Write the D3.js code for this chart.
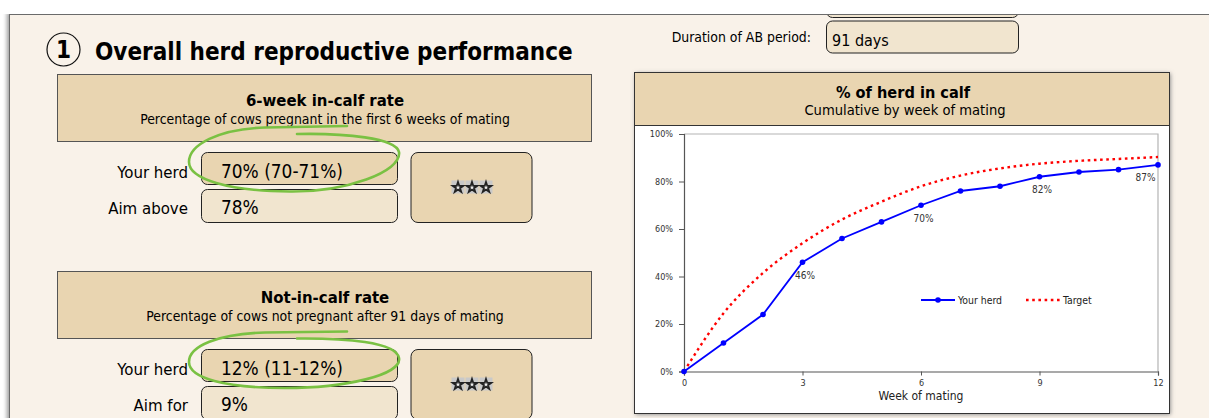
<!DOCTYPE html>
<html>
<head>
<meta charset="utf-8">
<script src="https://cdn.jsdelivr.net/npm/d3@7"></script>
<style>
  body { margin: 0; background: #ffffff; }
  svg { display: block; }
  text { font-family: 'DejaVu Sans Condensed', 'DejaVu Sans', sans-serif; }
</style>
</head>
<body>
<div id="chart"></div>
<script>
// chart data
const weeks = [0, 1, 2, 3, 4, 5, 6, 7, 8, 9, 10, 11, 12]
const yourHerd = [0, 12, 24, 46, 56, 63, 70, 76, 78, 82, 84, 85, 87]
const target = [0, 24.5, 41.5, 54, 64, 71.5, 78, 82.5, 85.5, 87.5, 88.7, 89.5, 90.3]
const labelWeeks = [3, 6, 9, 12]
const yTicks = [0, 20, 40, 60, 80, 100]
const xTicks = [0, 3, 6, 9, 12]
const seriesNames = ['Your herd', 'Target']

// left panel text
const metricTitles = ['6-week in-calf rate', 'Not-in-calf rate']
const metricSubtitles = [
  'Percentage of cows pregnant in the first 6 weeks of mating',
  'Percentage of cows not pregnant after 91 days of mating',
]
const herdValues = ['70% (70-71%)', '12% (11-12%)']
const aimLabels = ['Aim above', 'Aim for']
const aimValues = ['78%', '9%']
const starCounts = [3, 3]

const width = 1209
const height = 418
const tan = '#e9d5b1'
const lightTan = '#f1e5cf'
const panelBg = '#f9f2e9'

const svg = d3
  .select('#chart')
  .append('svg')
  .attr('width', width)
  .attr('height', height)

const defs = svg.append('defs')
defs
  .append('filter')
  .attr('id', 'shadow')
  .attr('x', '-5%')
  .attr('y', '-5%')
  .attr('width', '110%')
  .attr('height', '110%')
  .append('feGaussianBlur')
  .attr('stdDeviation', 2)

// Panel
svg
  .append('rect')
  .attr('x', 7)
  .attr('y', 12)
  .attr('width', 1300)
  .attr('height', 500)
  .attr('fill', '#999')
  .attr('filter', 'url(#shadow)')
svg
  .append('rect')
  .attr('x', 9.5)
  .attr('y', 14.5)
  .attr('width', 1300)
  .attr('height', 500)
  .attr('fill', panelBg)
  .attr('stroke', '#6b6b6b')

// Section heading
svg
  .append('circle')
  .attr('cx', 63.5)
  .attr('cy', 49.5)
  .attr('r', 16.5)
  .attr('fill', 'none')
  .attr('stroke', '#111')
  .attr('stroke-width', 1.2)
svg
  .append('text')
  .attr('x', 63.5)
  .attr('y', 58)
  .attr('text-anchor', 'middle')
  .attr('font-size', 24)
  .attr('font-weight', 'bold')
  .text('1')
svg
  .append('text')
  .attr('x', 95)
  .attr('y', 60)
  .attr('font-size', 24)
  .attr('font-weight', 'bold')
  .text('Overall herd reproductive performance')

// Top right inputs
svg
  .append('rect')
  .attr('x', 826.5)
  .attr('y', 2)
  .attr('width', 192)
  .attr('height', 15.5)
  .attr('rx', 6)
  .attr('fill', lightTan)
  .attr('stroke', '#222')
svg
  .append('rect')
  .attr('x', 0)
  .attr('y', 0)
  .attr('width', width)
  .attr('height', 14)
  .attr('fill', '#fff')
svg
  .append('line')
  .attr('x1', 9)
  .attr('x2', width)
  .attr('y1', 14.5)
  .attr('y2', 14.5)
  .attr('stroke', '#6b6b6b')
svg
  .append('text')
  .attr('x', 811)
  .attr('y', 42)
  .attr('text-anchor', 'end')
  .attr('font-size', 13.9)
  .text('Duration of AB period:')
svg
  .append('rect')
  .attr('x', 826.5)
  .attr('y', 21)
  .attr('width', 192)
  .attr('height', 32)
  .attr('rx', 6)
  .attr('fill', lightTan)
  .attr('stroke', '#222')
svg
  .append('text')
  .attr('x', 832)
  .attr('y', 46)
  .attr('font-size', 16)
  .text('91 days')

// Metric blocks
const blockTop = [74, 271]
const starPath = d3.symbol(d3.symbolStar, 34)()

metricTitles.forEach((title, i) => {
  const g = svg.append('g').attr('transform', `translate(0, ${blockTop[i]})`)
  g.append('rect')
    .attr('x', 57.5)
    .attr('y', 0.5)
    .attr('width', 534)
    .attr('height', 67)
    .attr('fill', tan)
    .attr('stroke', '#555')
  g.append('text')
    .attr('x', 325)
    .attr('y', 31.5)
    .attr('text-anchor', 'middle')
    .attr('font-size', 16.6)
    .attr('font-weight', 'bold')
    .text(title)
  g.append('text')
    .attr('x', 325)
    .attr('y', 49.5)
    .attr('text-anchor', 'middle')
    .attr('font-size', 13.9)
    .text(metricSubtitles[i])

  const vy = 78.5
  g.append('rect')
    .attr('x', 201.5)
    .attr('y', vy)
    .attr('width', 196)
    .attr('height', 32)
    .attr('rx', 6)
    .attr('fill', tan)
    .attr('stroke', '#222')
  g.append('rect')
    .attr('x', 201.5)
    .attr('y', vy + 37)
    .attr('width', 196)
    .attr('height', 33)
    .attr('rx', 6)
    .attr('fill', lightTan)
    .attr('stroke', '#222')
  g.append('rect')
    .attr('x', 411)
    .attr('y', vy)
    .attr('width', 121)
    .attr('height', 70)
    .attr('rx', 7)
    .attr('fill', tan)
    .attr('stroke', '#222')

  g.append('text')
    .attr('x', 188)
    .attr('y', vy + 25)
    .attr('text-anchor', 'end')
    .attr('font-size', 16.7)
    .text('Your herd')
  g.append('text')
    .attr('x', 188)
    .attr('y', vy + 61)
    .attr('text-anchor', 'end')
    .attr('font-size', 16.7)
    .text(aimLabels[i])
  g.append('text')
    .attr('x', 221)
    .attr('y', vy + 25)
    .attr('font-size', 18.9)
    .text(herdValues[i])
  g.append('text')
    .attr('x', 221)
    .attr('y', vy + 61)
    .attr('font-size', 18.9)
    .text(aimValues[i])

  // star icons
  const stars = g
    .selectAll('.star')
    .data(d3.range(starCounts[i]))
    .join('g')
    .attr('class', 'star')
    .attr(
      'transform',
      (d) => `translate(${472.5 + (d - (starCounts[i] - 1) / 2) * 14}, ${vy + 35})`
    )
  stars
    .append('rect')
    .attr('x', -7)
    .attr('y', -7)
    .attr('width', 13)
    .attr('height', 13)
    .attr('fill', '#c9c9c9')
  stars
    .append('path')
    .attr('d', starPath)
    .attr('transform', 'translate(-0.5, 0)')
    .attr('fill', '#eeeeee')
    .attr('stroke', '#222')
    .attr('stroke-width', 1.8)
})

// hand-drawn green rings
const ringPaths = [
  'M297,134 C345,133 396,138 399,152 C402,172 345,192 290,191.5 C228,191 189,179 189,162 C189,145 218,129 265,127.5 L347,126',
  'M297,338.5 C345,338 396,342 399,358 C402,375 345,388 285,388 C225,388 189,378 189,362 C189,346 218,334 265,332.5 L347,331.5',
]
svg
  .selectAll('.ring')
  .data(ringPaths)
  .join('path')
  .attr('class', 'ring')
  .attr('d', (d) => d)
  .attr('fill', 'none')
  .attr('stroke', '#7ac143')
  .attr('stroke-width', 2.6)
  .attr('stroke-linecap', 'round')

// Chart box
const box = { x: 634, y: 72, w: 535, h: 341, head: 53 }
svg
  .append('rect')
  .attr('x', box.x + 1.5)
  .attr('y', box.y + 1.5)
  .attr('width', box.w)
  .attr('height', box.h)
  .attr('fill', '#888')
  .attr('filter', 'url(#shadow)')
svg
  .append('rect')
  .attr('x', box.x + 0.5)
  .attr('y', box.y + 0.5)
  .attr('width', box.w)
  .attr('height', box.h)
  .attr('fill', '#fff')
  .attr('stroke', '#333')
svg
  .append('rect')
  .attr('x', box.x + 0.5)
  .attr('y', box.y + 0.5)
  .attr('width', box.w)
  .attr('height', box.head)
  .attr('fill', tan)
  .attr('stroke', '#333')
svg
  .append('text')
  .attr('x', 903)
  .attr('y', 98)
  .attr('text-anchor', 'middle')
  .attr('font-size', 16.2)
  .attr('font-weight', 'bold')
  .text('% of herd in calf')
svg
  .append('text')
  .attr('x', 905)
  .attr('y', 115)
  .attr('text-anchor', 'middle')
  .attr('font-size', 14.6)
  .text('Cumulative by week of mating')

// scales
const xScale = d3.scaleLinear().domain([0, 12]).range([684, 1158])
const yScale = d3.scaleLinear().domain([0, 100]).range([371.5, 134])

const plot = svg.append('g')

// frame top/right
plot
  .append('path')
  .attr('d', `M${xScale(0)},${yScale(100)}H${xScale(12)}V${yScale(0)}`)
  .attr('fill', 'none')
  .attr('stroke', '#b4b4b4')
  .attr('stroke-width', 1.2)

const yAxis = plot
  .append('g')
  .attr('transform', `translate(${xScale(0)}, 0)`)
  .call(
    d3
      .axisLeft(yScale)
      .tickValues(yTicks)
      .tickSize(5)
      .tickPadding(6)
      .tickFormat((d) => `${d}%`)
  )
const xAxis = plot
  .append('g')
  .attr('transform', `translate(0, ${yScale(0)})`)
  .call(d3.axisBottom(xScale).tickValues(xTicks).tickSize(4).tickPadding(4))
;[yAxis, xAxis].forEach((ax) => {
  ax.selectAll('.domain').attr('stroke', '#555').attr('stroke-width', 1.2)
  ax.selectAll('.tick line').attr('stroke', '#555')
  ax.selectAll('text')
    .attr('font-size', 9)
    .attr('fill', '#333')
    .attr('font-family', "'DejaVu Sans Condensed', 'DejaVu Sans', sans-serif")
})

plot
  .append('text')
  .attr('x', 921)
  .attr('y', 400)
  .attr('text-anchor', 'middle')
  .attr('font-size', 12)
  .attr('fill', '#222')
  .text('Week of mating')

// target line
const targetLine = d3
  .line()
  .x((d, i) => xScale(weeks[i]))
  .y((d) => yScale(d))
  .curve(d3.curveMonotoneX)

plot
  .append('path')
  .datum(target)
  .attr('d', targetLine)
  .attr('fill', 'none')
  .attr('stroke', '#ff0000')
  .attr('stroke-width', 2.4)
  .attr('stroke-dasharray', '2.6,3.6')

// your herd line
const herdLine = d3
  .line()
  .x((d, i) => xScale(weeks[i]))
  .y((d) => yScale(d))

plot
  .append('path')
  .datum(yourHerd)
  .attr('d', herdLine)
  .attr('fill', 'none')
  .attr('stroke', '#0000ff')
  .attr('stroke-width', 1.8)

plot
  .selectAll('.pt')
  .data(yourHerd)
  .join('circle')
  .attr('class', 'pt')
  .attr('cx', (d, i) => xScale(weeks[i]))
  .attr('cy', (d) => yScale(d))
  .attr('r', 2.8)
  .attr('fill', '#0000ff')

// data labels
plot
  .selectAll('.lbl')
  .data(labelWeeks)
  .join('text')
  .attr('class', 'lbl')
  .attr('x', (w) => xScale(w) + (w === 12 ? -12.5 : 2.5))
  .attr('y', (w) => yScale(yourHerd[weeks.indexOf(w)]) + 16.5)
  .attr('text-anchor', 'middle')
  .attr('font-size', 10)
  .attr('fill', '#333')
  .text((w) => `${yourHerd[weeks.indexOf(w)]}%`)

// legend
const legend = plot.append('g').attr('transform', 'translate(921, 300)')
const legendItems = legend
  .selectAll('g')
  .data(seriesNames)
  .join('g')
  .attr('transform', (d, i) => `translate(${i * 105}, 0)`)
legendItems
  .append('line')
  .attr('x1', 0)
  .attr('x2', 34)
  .attr('stroke', (d, i) => (i === 0 ? '#0000ff' : '#ff0000'))
  .attr('stroke-width', (d, i) => (i === 0 ? 1.8 : 2.4))
  .attr('stroke-dasharray', (d, i) => (i === 0 ? null : '2.6,3.6'))
legendItems
  .filter((d, i) => i === 0)
  .append('circle')
  .attr('cx', 17)
  .attr('r', 2.8)
  .attr('fill', '#0000ff')
legendItems
  .append('text')
  .attr('x', 37)
  .attr('y', 3.5)
  .attr('font-size', 10.4)
  .attr('fill', '#222')
  .text((d) => d)
</script>
</body>
</html>
